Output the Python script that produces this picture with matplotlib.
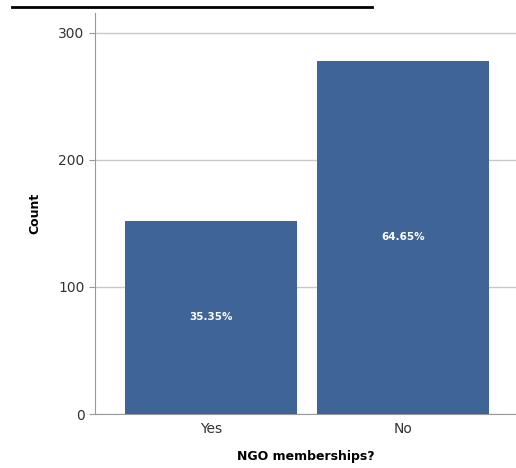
import matplotlib.pyplot as plt
from matplotlib.lines import Line2D

categories = ['Yes', 'No']
counts = [152, 278]
pct_labels = ['35.35%', '64.65%']
yticks = [0, 100, 200, 300]

bar_color = '#3f6497'

fig = plt.figure(figsize=(5.16, 4.68), dpi=100)
ax = fig.add_axes([95/516, 1 - 414/468, 1 - 95/516, (414 - 13)/468])

x = range(len(categories))
bars = ax.bar(x, counts, width=0.896, color=bar_color, zorder=3)

for b, lab in zip(bars, pct_labels):
    ax.text(b.get_x() + b.get_width()/2, b.get_height()/2, lab,
            ha='center', va='center', color='white', fontsize=7.5,
            fontweight='bold', zorder=4)

ax.set_xlim(-0.604, 1.589)
ax.set_ylim(0, 315.7)
ax.set_yticks(yticks)
ax.set_xticks(list(x))
ax.set_xticklabels(categories)
ax.yaxis.grid(True, color='#c8c8c8', linewidth=1, zorder=0)
ax.tick_params(axis='y', length=4, color='#999999', labelcolor='#333333', labelsize=10)
ax.tick_params(axis='x', length=0, labelcolor='#333333', labelsize=10, pad=6)

for s in ['top', 'right']:
    ax.spines[s].set_visible(False)
ax.spines['left'].set_color('#999999')
ax.spines['bottom'].set_color('#999999')

ax.set_ylabel('Count', fontsize=9, fontweight='bold', labelpad=12)
ax.set_xlabel('NGO memberships?', fontsize=9, fontweight='bold', labelpad=10)

fig.add_artist(Line2D([12/516, 372/516], [1 - 7/468, 1 - 7/468],
                      color='black', linewidth=2, transform=fig.transFigure))

fig.savefig('out.png', dpi=100)
